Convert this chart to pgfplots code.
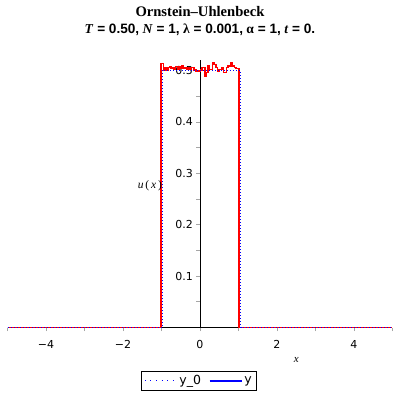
\documentclass[border=0pt]{standalone}
\usepackage{pgfplots}
\pgfplotsset{compat=1.18}
\usepackage{fontspec}
\setmainfont{Liberation Serif}
\setsansfont{DejaVu Sans}
\newfontfamily\ticksfont{DejaVu Sans}
\newfontfamily\tsans{Liberation Sans}
\begin{document}
\begin{tikzpicture}
\useasboundingbox (0,0) rectangle (400pt,400pt);
\fill[white] (0,0) rectangle (400pt,400pt);
\node[font=\bfseries\fontsize{14.6}{16}\selectfont] at (200pt,388pt) {Ornstein–Uhlenbeck};
\node[font=\bfseries\fontsize{13.6}{15}\selectfont] at (200pt,370pt) {\textit{T}{\tsans\ = 0.50,} \textit{N}{\tsans\ = 1,} λ{\tsans\ = 0.001,} α{\tsans\ = 1,} \textit{t}{\tsans\ = 0.}};
\begin{axis}[
 at={(7.5pt,72.5pt)}, anchor=south west,
 scale only axis, width=385pt, height=267.3pt,
 xmin=-5, xmax=5, ymin=0, ymax=0.52,
 axis lines=middle, axis line style={black, line width=0.8pt, -},
 hide obscured x ticks=false, hide obscured y ticks=false,
 xtick={-5,-4,-3,-2,-1,0,1,2,3,4,5},
 xticklabels={,−4,,−2,,0,,2,,4,},
 ytick={0.05,0.1,0.15,0.2,0.25,0.3,0.35,0.4,0.45,0.5},
 yticklabels={,0.1,,0.2,,0.3,,0.4,,0.5},
 tick align=outside, major tick length=3.5pt,
 tick style={gray!70, line width=0.7pt},
 ticklabel style={font=\ticksfont\fontsize{11}{13}\selectfont},
 xticklabel style={yshift=-6pt},
 xlabel={\textit{x}}, xlabel style={at={(axis description cs:0.75,0)}, anchor=center, yshift=-32pt, font=\fontsize{11}{13}\selectfont},
 ylabel={\textit{u}\,(\,\textit{x}\,)}, ylabel style={at={(axis description cs:0.37,0.529)}, rotate=0, anchor=center, font=\fontsize{11.5}{13}\selectfont},
 legend columns=2,
 legend style={at={(axis description cs:0.4975,-0.2)}, anchor=center, draw=black, line width=0.6pt, font=\ticksfont\fontsize{12.5}{14}\selectfont, inner xsep=3pt, inner ysep=2pt, /tikz/every even column/.append style={column sep=6pt}},
 legend image code/.code={\draw[#1] (0pt,0pt) -- (32pt,0pt);},
 clip=false,
]
\addplot[red, line width=1.5pt, const plot, forget plot] coordinates {
(-5,0) (-1.01,0)
(-1.01,0.514) (-0.95,0.501) (-0.91,0.5055) (-0.87,0.501) (-0.83,0.5055)
(-0.79,0.5075) (-0.75,0.504) (-0.71,0.506) (-0.67,0.502) (-0.63,0.508)
(-0.59,0.503) (-0.55,0.507) (-0.51,0.505) (-0.47,0.509) (-0.43,0.504)
(-0.39,0.506) (-0.35,0.503) (-0.31,0.505) (-0.27,0.503) (-0.23,0.5055)
(-0.19,0.5055) (-0.15,0.501) (-0.11,0.499) (-0.07,0.499) (-0.03,0.499)
(0.01,0.501) (0.05,0.5055) (0.09,0.5055) (0.13,0.489) (0.17,0.496)
(0.21,0.509) (0.25,0.502) (0.29,0.502) (0.33,0.515) (0.37,0.512)
(0.41,0.5055) (0.45,0.499) (0.49,0.502) (0.53,0.502) (0.57,0.5055)
(0.61,0.496) (0.65,0.496) (0.69,0.5055) (0.73,0.509) (0.77,0.509)
(0.81,0.515) (0.85,0.509) (0.89,0.5055) (0.93,0.504) (0.97,0.504)
(1.01,0) (5,0)
};
\addplot[blue, line width=1pt, dash pattern=on 1pt off 2pt, forget plot] coordinates {
(-5,0) (-0.975,0) (-0.975,0.5) (1.055,0.5) (1.055,0) (5,0)
};
\addlegendimage{blue, line width=1pt, dash pattern=on 1pt off 4.6pt}
\addlegendentry{y\_0}
\addlegendimage{blue, line width=1.3pt}
\addlegendentry{y}
\end{axis}
\end{tikzpicture}
\end{document}
